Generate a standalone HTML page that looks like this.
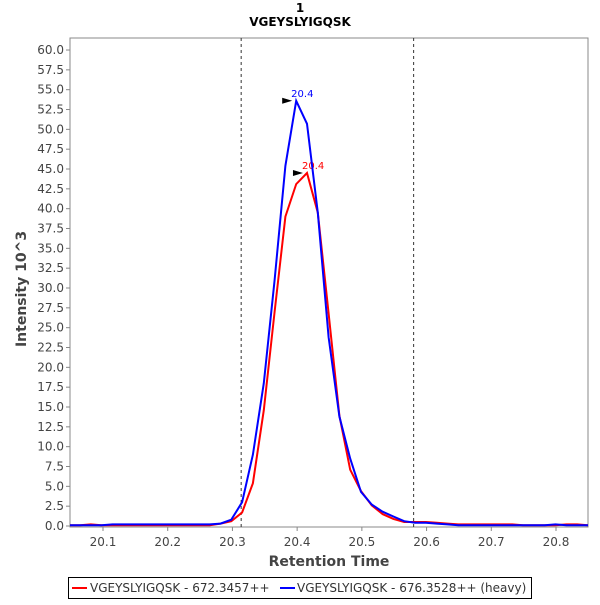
<!DOCTYPE html>
<html><head><meta charset="utf-8"><style>
body{margin:0;background:#fff;font-family:"Liberation Sans","DejaVu Sans",sans-serif}
svg text{font-family:"DejaVu Sans","Liberation Sans",sans-serif}
</style></head><body>
<svg id="chart" width="600" height="600" xmlns="http://www.w3.org/2000/svg">
<rect width="600" height="600" fill="#fff"/>
<text x="300" y="12" text-anchor="middle" font-size="12" font-weight="bold" fill="#000">1</text>
<text x="300" y="26" text-anchor="middle" font-size="12" font-weight="bold" fill="#000">VGEYSLYIGQSK</text>
<rect x="70" y="38" width="518" height="489" fill="#fff" stroke="#888"/>
<g id="yaxis"></g><g id="xaxis"></g><g id="marks"></g>
<text x="329" y="566" text-anchor="middle" font-size="14" font-weight="bold" fill="#444">Retention Time</text>
<text transform="translate(26,289) rotate(-90)" text-anchor="middle" font-size="14" font-weight="bold" fill="#444">Intensity 10^3</text>
<g>
<rect x="68.5" y="577.5" width="463" height="21" fill="#fff" stroke="#000"/>
<line x1="72" y1="588" x2="87" y2="588" stroke="#f00" stroke-width="2"/>
<text x="90" y="592" font-size="12" fill="#333">VGEYSLYIGQSK - 672.3457++</text>
<line x1="280" y1="588" x2="295" y2="588" stroke="#00f" stroke-width="2"/>
<text x="297" y="592" font-size="12" fill="#333">VGEYSLYIGQSK - 676.3528++ (heavy)</text>
</g>
</svg>
<script>
const xTicks=[20.1,20.2,20.3,20.4,20.5,20.6,20.7,20.8];
const yTicks=[0,2.5,5,7.5,10,12.5,15,17.5,20,22.5,25,27.5,30,32.5,35,37.5,40,42.5,45,47.5,50,52.5,55,57.5,60];
const boundaries=[20.3135,20.58];
const redValues=[0.1,0.1,0.1,0.2,0.1,0.1,0.1,0.1,0.1,0.1,0.1,0.1,0.1,0.1,0.1,0.3,0.6,1.7,5.4,14.6,27,39.0,43.1,44.5,39.5,26.8,13.9,7.1,4.4,2.6,1.5,0.9,0.5,0.5,0.5,0.4,0.3,0.2,0.2,0.2,0.2,0.2,0.2,0.1,0.1,0.1,0.1,0.2,0.2,0.1];
const blueValues=[0.1,0.1,0.1,0.1,0.1,0.2,0.2,0.2,0.2,0.2,0.2,0.2,0.2,0.2,0.2,0.3,0.8,3.0,9.0,18.0,31,45.4,53.6,50.7,39.5,23.8,13.8,8.5,4.3,2.7,1.8,1.2,0.6,0.4,0.4,0.3,0.2,0.1,0.1,0.1,0.1,0.1,0.1,0.1,0.1,0.1,0.2,0.1,0.1,0.1];
const t0=20.3985-22*0.0167, dt=0.0167;
const peakLabels=["20.4","20.4"];
const NS="http://www.w3.org/2000/svg";
const X=v=>70+(v-20.049)*647.14, Y=v=>526-v*7.933;
function mk(tag,a,parent){const e=document.createElementNS(NS,tag);for(const k in a)e.setAttribute(k,a[k]);parent.appendChild(e);return e;}
const ya=document.getElementById('yaxis'),xa=document.getElementById('xaxis'),mg=document.getElementById('marks');
yTicks.forEach(v=>{const y=Y(v);
 mk('line',{x1:66,x2:70,y1:y,y2:y,stroke:'#888'},ya);
 const t=mk('text',{x:64,y:y+4,'text-anchor':'end','font-size':12,fill:'#444'},ya);t.textContent=v.toFixed(1);
 
 
});
xTicks.forEach(v=>{const x=X(v);
 mk('line',{x1:x,x2:x,y1:527,y2:531,stroke:'#888'},xa);
 const t=mk('text',{x:x,y:546,'text-anchor':'middle','font-size':12,fill:'#444'},xa);t.textContent=v.toFixed(1);
 
 
});
boundaries.forEach(b=>{const l=mk('line',{x1:X(b),x2:X(b),y1:38,y2:527,stroke:'#333','stroke-dasharray':'3,3'},mg);
 
 });
function series(vals,color,name,label){
 const pts=vals.map((v,i)=>X(t0+i*dt).toFixed(1)+','+Y(v).toFixed(1)).join(' ');
 const p=mk('polyline',{points:pts,fill:'none',stroke:color,'stroke-width':2,'clip-path':'url(#clip)'},mg);
 
 
 let mi=0;vals.forEach((v,i)=>{if(v>vals[mi])mi=i;});
 const px=X(t0+mi*dt),py=Y(vals[mi]);
 const a=mk('polygon',{points:`${px-14},${py-3} ${px-4},${py} ${px-14},${py+3}`,fill:'#000'},mg);
 
 
 const t=mk('text',{x:px-5,y:py-4,'font-size':10,fill:color},mg);t.textContent=label;
 
 
}
const defs=mk('defs',{},document.getElementById('chart'));
const cp=mk('clipPath',{id:'clip'},defs);mk('rect',{x:70,y:38,width:518,height:489},cp);
series(redValues,'#f00','series-light',peakLabels[0]);
series(blueValues,'#00f','series-heavy',peakLabels[1]);
</script>
</body></html>
